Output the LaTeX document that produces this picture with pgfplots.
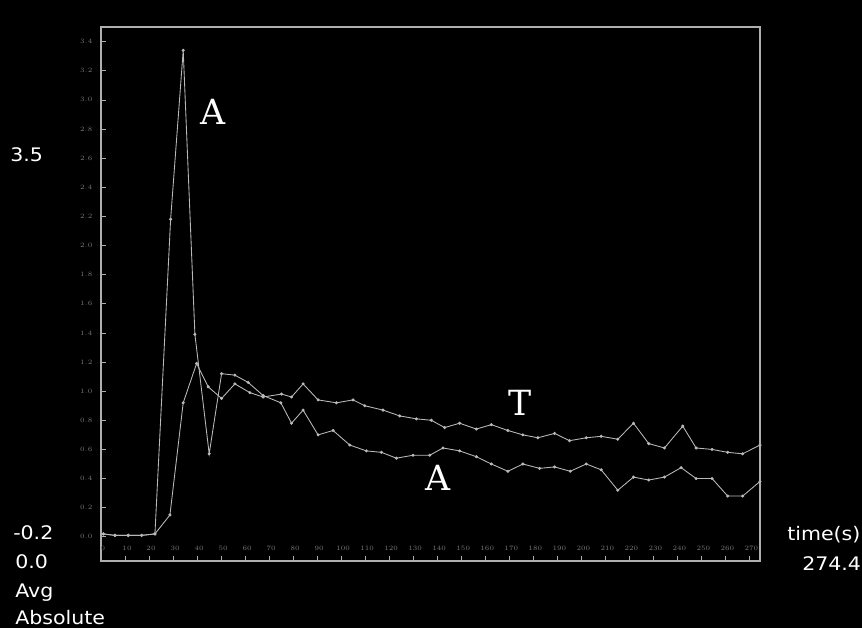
\documentclass[border=0pt]{standalone}
\usepackage{pgfplots}
\pgfplotsset{compat=1.18}
\usepackage{fontspec}
\setmainfont{DejaVu Sans}
\newfontfamily\sidefont[FakeStretch=1.1]{DejaVu Sans}
\newfontfamily\serifA{DejaVu Serif}
\definecolor{frame}{RGB}{175,175,175}
\definecolor{trace}{RGB}{185,185,185}
\definecolor{ticklab}{RGB}{120,120,120}
\begin{document}
\begin{tikzpicture}
\useasboundingbox (0,0) rectangle (646.5pt,-471pt);
\fill[black] (0,0) rectangle (646.5pt,-471pt);
\begin{axis}[
  at={(75.75pt,-420.75pt)}, anchor=south west,
  scale only axis, width=494.25pt, height=400.5pt,
  xmin=0, xmax=274.4, ymin=-0.166, ymax=3.5,
  axis line style={frame, line width=1.1pt},
  xtick={0,10,...,270},
  ytick={0,0.2,0.4,0.6,0.8,1.0,1.2,1.4,1.6,1.8,2.0,2.2,2.4,2.6,2.8,3.0,3.2,3.4},
  xtick pos=bottom, ytick pos=left,
  tick align=inside,
  major tick length=4pt,
  tick style={frame, line width=0.5pt},
  /pgf/number format/.cd, fixed, fixed zerofill, precision=1, /pgfplots/.cd,
  xticklabel={\pgfmathprintnumber[fixed,precision=0]{\tick}},
  xticklabel style={font=\fontsize{4.5}{5}\selectfont, text=ticklab, anchor=center, yshift=9.75pt, xshift=1.5pt},
  yticklabel style={font=\fontsize{4.5}{5}\selectfont, text=ticklab, xshift=-3pt},
]
\addplot[trace, line width=0.65pt, mark=*, mark size=0.8pt, mark options={fill=trace, draw=trace}] coordinates {
(0.96,0.02)(5.82,0.01)(11.36,0.01)(16.93,0.01)(22.46,0.02)(28.99,2.18)(34.23,3.34)(39.10,1.39)(45.05,0.57)(50.21,1.12)(55.74,1.11)(61.27,1.06)(67.51,0.97)(74.88,0.92)(79.33,0.78)(84.15,0.87)(90.39,0.70)(96.63,0.73)(103.58,0.63)(110.52,0.59)(116.76,0.58)(123.00,0.54)(129.91,0.56)(136.86,0.56)(142.39,0.61)(149.33,0.59)(156.28,0.55)(162.52,0.50)(169.43,0.45)(175.67,0.50)(182.61,0.47)(188.85,0.48)(195.38,0.45)(202.04,0.50)(208.28,0.46)(215.18,0.32)(221.71,0.41)(228.08,0.39)(234.61,0.41)(241.56,0.475)(247.80,0.40)(254.45,0.40)(260.94,0.28)(267.18,0.28)(274.4,0.38)
};
\addplot[trace, line width=0.65pt, mark=*, mark size=0.8pt, mark options={fill=trace, draw=trace}] coordinates {
(0.96,0.02)(5.82,0.01)(11.36,0.01)(16.93,0.01)(22.46,0.02)(28.70,0.15)(34.23,0.92)(39.81,1.19)(44.63,1.03)(50.21,0.95)(55.74,1.05)(61.98,0.99)(67.51,0.96)(75.17,0.98)(79.33,0.96)(84.15,1.05)(90.39,0.94)(98.04,0.92)(104.95,0.94)(109.82,0.90)(117.43,0.87)(124.38,0.83)(131.32,0.81)(137.56,0.80)(143.09,0.75)(149.33,0.78)(156.28,0.74)(162.52,0.77)(169.43,0.73)(175.67,0.70)(181.91,0.68)(188.85,0.71)(195.09,0.66)(202.04,0.68)(208.28,0.69)(215.18,0.67)(221.71,0.78)(228.08,0.64)(234.61,0.61)(242.22,0.76)(247.80,0.61)(254.45,0.60)(260.94,0.58)(267.18,0.57)(274.4,0.63)
};
\end{axis}
\node[font=\serifA\fontsize{26}{26}\selectfont, text=white] at (213*0.75pt,-112*0.75pt) {A};
\node[font=\serifA\fontsize{26}{26}\selectfont, text=white] at (520*0.75pt,-403*0.75pt) {T};
\node[font=\serifA\fontsize{26}{26}\selectfont, text=white] at (438*0.75pt,-478*0.75pt) {A};
\begin{scope}[every node/.style={font=\sidefont\fontsize{14}{16}\selectfont, text=white, anchor=base west, inner sep=0pt}]
\node at (10*0.75pt,-161*0.75pt) {3.5};
\node at (13*0.75pt,-539.5*0.75pt) {-0.2};
\node at (15*0.75pt,-568*0.75pt) {0.0};
\node at (15*0.75pt,-597*0.75pt) {Avg};
\node at (15*0.75pt,-624*0.75pt) {Absolute};
\node at (787*0.75pt,-540*0.75pt) {time(s)};
\node at (802*0.75pt,-570*0.75pt) {274.4};
\end{scope}
\end{tikzpicture}
\end{document}
